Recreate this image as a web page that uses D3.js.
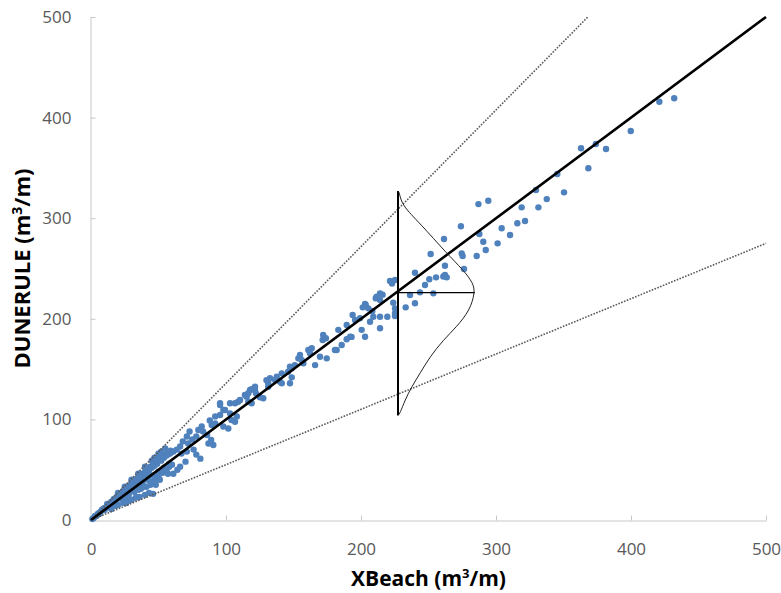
<!DOCTYPE html>
<html>
<head>
<meta charset="utf-8">
<script src="https://cdn.jsdelivr.net/npm/d3@7"></script>
<style>
  body { margin: 0; background: #fff; }
  #wrapper { width: 781px; height: 593px; }
  .tick text { font-family: "Open Sans", sans-serif; font-size: 17px; fill: #595959; }
  .axis-title { font-family: "Open Sans", sans-serif; font-weight: bold; fill: #000; }
</style>
</head>
<body>
<div id="wrapper"></div>
<script>
// XBeach vs DUNERULE (m3/m), values as [xbeach, dunerule]
const scatter = [
  [1,1],[2,2],[3,4],[4,4],[5,6],[6,7],[7,8],[8,10],[9,11],[10,12],[11,12],[12,14],[13,16],[14,15],[15,18],
  [16,19],[17,21],[18,20],[19,23],[20,24],[21,25],[22,27],[23,26],[24,29],[25,31],[26,30],[27,33],[28,34],
  [29,33],[30,37],[31,36],[32,39],[33,38],[34,41],[35,40],[36,44],[37,42],[38,46],[39,45],[40,48],[41,47],
  [42,51],[43,49],[44,53],[45,52],[46,55],[47,54],[48,58],[49,56],[50,60],[51,61],[52,59],[53,63],[54,62],
  [55,65],[56,64],[57,67],[58,66],[59,69],[60,68],
  [6,6],[10,10],[14,13],[18,17],[22,21],[26,25],[30,29],[34,33],[38,36],[42,40],[46,44],[50,48],[54,52],[58,56],
  [12,16],[20,27],[25,33],[30,40],[35,46],[40,53],[45,59],[50,66],[55,71],[47,62],[52,68],
  [15,11],[18,14],[20,15],[24,17],[27,19],[30,20],[33,22],[36,23],[40,25],[43,27],[46,26],[37,31],[41,33],
  [44,35],[38,36],[45,38],[48,41],[42,43],[50,44],[53,47],[56,50],[58,53],[25,21],[28,25],[32,28],[35,30],
  [48,35],[51,40],[57,46],[60,55],[66,53],[61,46],[54,50],[70,58],[64,50],[34,23],[26,17],[39,33],
  [61,68],[58.5,66],[56,65],[53.6,63],[63.5,70],[66,73],[67,66],[71,68],[76,70],[78,65],[81,61],[68,78],
  [72,76],[71,83],[73,88],[75,80],[78,83],[79.5,89.5],[82,93],[83,88],[86,84.5],[87,76],[89,79.5],[90.6,74.6],
  [88,99],[89.4,94.4],[92,96],[92,103],[95.6,104.4],[98,93],[101.7,91],[99.3,109.3],[103,106],[104,99.4],
  [106.7,97.7],[108,103],[95.6,116],[103,116],[106.7,116],[110.4,119.3],[114,124.3],[116.5,117.6],[119,116],
  [117.8,129.2],[122.2,125.9],[109,117.6],[95.6,114.3],[98,109.3],
  [119,130],[121.5,129.2],[116.5,126],[127.6,121],[125.2,122],[130,139],[131.3,136],[132.6,141],[137.6,142.4],
  [136.3,139.2],[140,137.5],[141.3,145.8],[148.7,141.8],[141.3,136],[147.4,136],[146,147.4],[147.4,152.4],
  [148.7,150.8],[151,154],[153.6,160.7],[154.8,164],[156,159],[157.3,155.8],[161,169],[162.2,165.7],
  [163.5,170.7],[166,154],[169.6,162.3],[174.6,160.7],[171.6,179],[172,184],[174,180.6],[180.7,169],
  [185.7,174],[189.4,179.6],[192,182.2],[183.2,189],[200.5,189],[203,182.2],[193.8,203.8],[195.6,198.8],
  [199.3,200.5],[203,214.7],[205.4,210.4],[131.3,132.5],[121.5,132.5],[115.3,122.6],[182,169],[189.4,193.8],
  [193,182],
  [201.3,211.4],[203.5,213.7],[208.4,207.8],[209.1,202.1],[214.1,202.1],[219.5,202.1],[225.2,202.8],
  [210.9,220.4],[211.6,222],[214.1,225.3],[216,224],[214.1,218.7],[221.5,237.6],[225.2,238.6],[223,235],
  [223.9,216],[225.2,210.4],[233.1,211.4],[240,215.4],[236.3,223.7],[243.7,226.3],[253.6,225.3],[240,245.8],
  [247.4,233.6],[250.6,239.3],[255.6,241.2],[261,242],[262.2,243.5],[263.5,241.2],[262.2,252.8],[251.6,264.4],
  [261.5,279.3],[214.1,190.6],[206.7,197.1],[225.2,205.5],
  [274,292],[274.6,265],[275.3,262.4],[276.3,249.5],[285.7,262.4],[287.7,284.3],[290.6,276.6],[292.4,268.4],
  [287,314],[294.3,317.4],[301.2,275],[304.2,290],[310.4,283.3],[315.8,295],[321.5,297.2],[319,310.8],
  [331.4,310.8],[329.6,328],[337.6,319],[345.4,344],[350.4,325.7],[363,369.5],[368.4,349.6],[374,373.8],
  [381.5,368.8],[399.8,386.7],[421,415.8],[432,419.2]
];

// 1:1 line and dotted envelope lines
const oneToOne = [[0, 0], [500, 500]];
const envelopes = [
  [[0, 0], [368, 500]],
  [[0, 0], [500, 275]]
];

// sketched distribution, [dunerule, xbeach]
const bellCurve = [
  [326,228.4],[313,230.1],[295,243.7],[265,263.5],[248.5,275.8],[235.3,283.2],[226,284.4],[208.7,280.7],
  [192,270.9],[179,261],[162.3,251.1],[145.8,243.7],[132.5,237.6],[119.3,232.6],[106,228.9]
];
const bellStem = { x: 227.4, yTop: 327, yBottom: 104 };
const bellMean = { y: 226, xEnd: 284.4 };

const xTicks = [0, 100, 200, 300, 400, 500];
const yTicks = [0, 100, 200, 300, 400, 500];

function draw() {
  const dimensions = {
    width: 781,
    height: 593,
    margin: { top: 17, right: 15, bottom: 73, left: 91 }
  };
  dimensions.boundedWidth = dimensions.width - dimensions.margin.left - dimensions.margin.right;
  dimensions.boundedHeight = dimensions.height - dimensions.margin.top - dimensions.margin.bottom;

  const wrapper = d3.select("#wrapper")
    .append("svg")
      .attr("width", dimensions.width)
      .attr("height", dimensions.height);

  const bounds = wrapper.append("g")
    .attr("transform", "translate(" + dimensions.margin.left + "," + dimensions.margin.top + ")");

  const x = d3.scaleLinear().domain([0, 500]).range([0, dimensions.boundedWidth]);
  const y = d3.scaleLinear().domain([0, 500]).range([dimensions.boundedHeight, 0]);

  // axes
  const xAxis = bounds.append("g")
    .attr("transform", "translate(0," + (dimensions.boundedHeight + 0.5) + ")")
    .call(d3.axisBottom(x).tickValues(xTicks).tickSize(-5).tickSizeOuter(0).tickPadding(22));
  const yAxis = bounds.append("g")
    .attr("transform", "translate(-0.5,0)")
    .call(d3.axisLeft(y).tickValues(yTicks).tickSize(-5).tickSizeOuter(0).tickPadding(19));
  [xAxis, yAxis].forEach(a => {
    a.select(".domain").attr("stroke", "#c8c8c8");
    a.selectAll(".tick line").attr("stroke", "#c8c8c8");
  });

  // scatter
  bounds.append("g")
    .selectAll("circle")
    .data(scatter)
    .enter()
    .append("circle")
      .attr("cx", d => x(d[0]))
      .attr("cy", d => y(d[1]))
      .attr("r", 3.2)
      .attr("fill", "#4f81bd");

  const line = d3.line().x(d => x(d[0])).y(d => y(d[1]));

  bounds.selectAll(".envelope")
    .data(envelopes)
    .enter()
    .append("path")
      .attr("class", "envelope")
      .attr("d", line)
      .attr("fill", "none")
      .attr("stroke", "#5a5a5a")
      .attr("stroke-width", 1.6)
      .attr("stroke-dasharray", "1.6,1.4");

  bounds.append("path")
    .attr("d", line(oneToOne))
    .attr("fill", "none")
    .attr("stroke", "#000")
    .attr("stroke-width", 2.6);

  // distribution sketch
  bounds.append("line")
    .attr("x1", x(bellStem.x)).attr("x2", x(bellStem.x))
    .attr("y1", y(bellStem.yTop)).attr("y2", y(bellStem.yBottom))
    .attr("stroke", "#000")
    .attr("stroke-width", 2);
  bounds.append("line")
    .attr("x1", x(bellStem.x)).attr("x2", x(bellMean.xEnd))
    .attr("y1", y(bellMean.y)).attr("y2", y(bellMean.y))
    .attr("stroke", "#000")
    .attr("stroke-width", 1.2);
  const bell = d3.line()
    .x(d => x(d[1]))
    .y(d => y(d[0]))
    .curve(d3.curveBasis);
  bounds.append("path")
    .attr("d", bell([[bellStem.yTop, bellStem.x]].concat(bellCurve, [[bellStem.yBottom, bellStem.x]])))
    .attr("fill", "none")
    .attr("stroke", "#222")
    .attr("stroke-width", 1);

  // titles
  const xTitle = wrapper.append("text")
    .attr("class", "axis-title")
    .attr("font-size", 21)
    .attr("x", dimensions.margin.left + dimensions.boundedWidth / 2)
    .attr("y", 586)
    .attr("text-anchor", "middle");
  xTitle.append("tspan").text("XBeach (m");
  xTitle.append("tspan").attr("dy", -8).attr("font-size", 13).text("3");
  xTitle.append("tspan").attr("dy", 8).text("/m)");

  const yTitle = wrapper.append("text")
    .attr("class", "axis-title")
    .attr("font-size", 22)
    .attr("transform", "translate(30," + (dimensions.margin.top + dimensions.boundedHeight / 2) + ") rotate(-90)")
    .attr("text-anchor", "middle");
  yTitle.append("tspan").text("DUNERULE (m");
  yTitle.append("tspan").attr("dy", -8).attr("font-size", 14).text("3");
  yTitle.append("tspan").attr("dy", 8).text("/m)");
}
draw();
</script>
</body>
</html>
